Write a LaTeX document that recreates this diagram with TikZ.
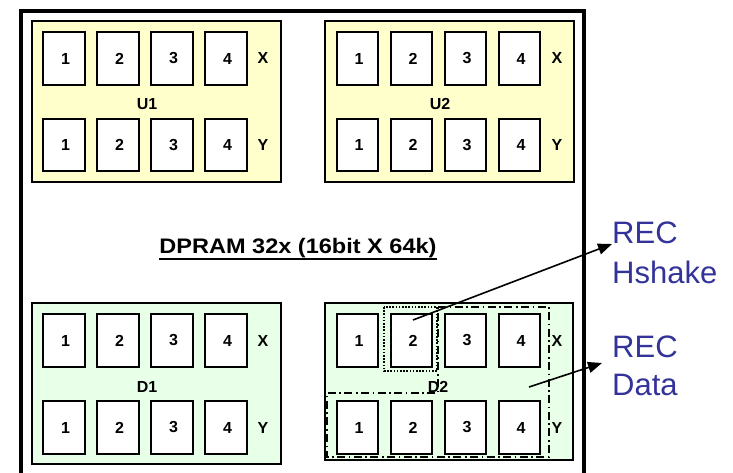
\documentclass[tikz,border=0pt]{standalone}
\usepackage{fontspec}
\setmainfont{Liberation Sans}
\usetikzlibrary{arrows.meta}
\definecolor{ufill}{RGB}{255,255,204}
\definecolor{dfill}{RGB}{232,255,232}
\definecolor{recblue}{RGB}{51,51,153}
\begin{document}
\begin{tikzpicture}[x=1pt,y=-1pt,
  blk/.style={draw, line width=2.4pt},
  cell/.style={draw, fill=white, line width=2.4pt, minimum width=41.5pt, minimum height=52.5pt, inner sep=0pt,
    font=\fontsize{16}{16}\selectfont\bfseries},
  lbl/.style={inner sep=0pt, font=\fontsize{16}{16}\selectfont\bfseries},
  rec/.style={inner sep=0pt, anchor=base west, text=recblue, font=\fontsize{31}{31}\selectfont},
  arr/.style={line width=1.6pt, -{Triangle[length=14pt,width=11pt]}},
  dotbox/.style={line width=1.8pt, dash pattern=on 1.6pt off 1.6pt},
  dashdotbox/.style={line width=1.6pt, dash pattern=on 8pt off 3.5pt on 1.6pt off 3.5pt}
]
\useasboundingbox (0,0) rectangle (733,473);
\fill[white] (0,0) rectangle (733,473);
% outer frame
\draw[line width=3.5pt] (21,11) rectangle (584,495);
% blocks
\draw[blk, fill=ufill] (32,21) rectangle (281,182);
\draw[blk, fill=ufill] (325,21) rectangle (574,182);
\draw[blk, fill=dfill] (32,303) rectangle (281,464);
\draw[blk, fill=dfill] (325,303) rectangle (573,460);
% cells
\foreach \b/\xb/\yx/\yy in {u1/64/58.5/145, u2/357.5/58.5/145, d1/64/340.5/427.5, d2/357.5/340.5/427.5}{
  \foreach \i in {1,2,3,4}{
    \node[cell] (\b x\i) at ({\xb+54*(\i-1)},\yx) {\hspace{3pt}\i};
    \node[cell] (\b y\i) at ({\xb+54*(\i-1)},\yy) {\hspace{3pt}\i};
  }
}
% labels
\node[lbl] (u1X) at (263,58) {X};
\node[lbl] (u1Y) at (263,145) {Y};
\node[lbl] (u1L) at (147,104) {U1};
\node[lbl] (u2X) at (557,58) {X};
\node[lbl] (u2Y) at (557,145) {Y};
\node[lbl] (u2L) at (440,104) {U2};
\node[lbl] (d1X) at (263,341) {X};
\node[lbl] (d1Y) at (263,428) {Y};
\node[lbl] (d1L) at (147,387) {D1};
\node[lbl] (d2X) at (557,341) {X};
\node[lbl] (d2Y) at (557,428) {Y};
\node[lbl] (d2L) at (438,387) {D2};
% title
\node[inner sep=0pt, anchor=base] (title) at (298,253)
  {\scalebox{1.12}[1]{\fontsize{21}{21}\selectfont\bfseries DPRAM 32x (16bit X 64k)}};
\draw[line width=2.2pt] ([yshift=-6pt]title.base west) -- ([yshift=-6pt]title.base east);
% selection outlines in D2
\draw[dotbox] (384,307) rectangle (437,371);
\draw[dashdotbox] (438,307) -- (549,307) -- (549,457) -- (327,457) -- (327,393) -- (438,393) -- cycle;
% REC labels
\node[rec] (rec1a) at (612,243) {REC};
\node[rec] (rec1b) at (612,283) {Hshake};
\node[rec] (rec2a) at (612,357) {REC};
\node[rec] (rec2b) at (612,395) {Data};
% arrows
\coordinate (a1s) at (413,320);
\coordinate (a1e) at (612,244);
\coordinate (a2s) at (529,387);
\coordinate (a2e) at (602,363);
\draw[arr] (a1s) -- (a1e);
\draw[arr] (a2s) -- (a2e);
\end{tikzpicture}
\end{document}
